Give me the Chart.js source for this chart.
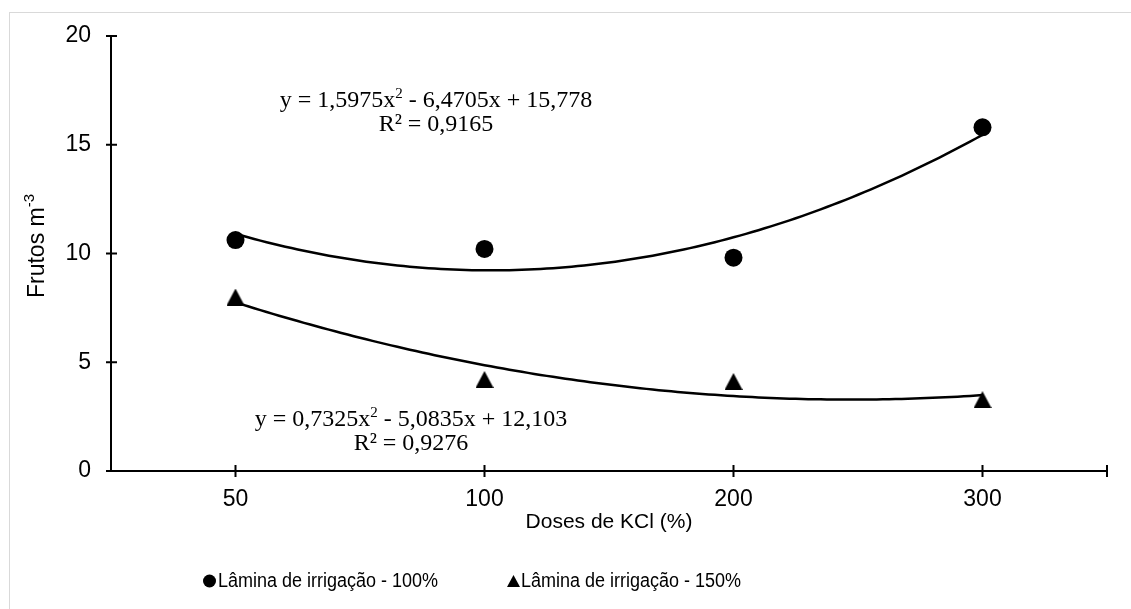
<!DOCTYPE html>
<html>
<head>
<meta charset="utf-8">
<title>Frutos por dose de KCl</title>
<script src="https://cdn.jsdelivr.net/npm/chart.js@4.4.1/dist/chart.umd.min.js"></script>
<style>
  body { margin: 0; background: #fff; }
  #frame { position: absolute; left: 9px; top: 12px; width: 1200px; height: 700px; border: 1px solid #d9d9d9; }
  #wrap { position: absolute; left: 0; top: 0; width: 1131px; height: 609px; }
</style>
</head>
<body>
<div id="frame"></div>
<div id="wrap"><canvas id="chart" width="1131" height="609"></canvas></div>
<script>
// doses de KCl (categorias do eixo x) e frutos por m³ em cada lâmina
const doses = ["50", "100", "200", "300"];
const lamina100 = [10.62, 10.21, 9.81, 15.80];
const lamina150 = [8.0, 4.21, 4.12, 3.28];
const yTicks = [0, 5, 10, 15, 20];

// coeficientes das linhas de tendência polinomiais (a, b, c), x = 1..4
const coef100 = [1.5975, -6.4705, 15.778];
const coef150 = [0.7325, -5.0835, 12.103];
const eq100 = ["y = 1,5975x", "2", " - 6,4705x + 15,778"];
const eq150 = ["y = 0,7325x", "2", " - 5,0835x + 12,103"];
const r2100 = "R² = 0,9165";
const r2150 = "R² = 0,9276";

const legendNames = ["Lâmina de irrigação - 100%", "Lâmina de irrigação - 150%"];

const SANS = '"Liberation Sans", Arial, sans-serif';
const SERIF = '"Liberation Serif", "Times New Roman", serif';

function trend(coef) {
  const pts = [];
  for (let i = 0; i <= 120; i++) {
    const x = 1 + i * 3 / 120;
    pts.push({ x: x, y: coef[0] * x * x + coef[1] * x + coef[2] });
  }
  return pts;
}

function triangleMarker(w, h) {
  const c = document.createElement("canvas");
  c.width = w; c.height = h;
  const g = c.getContext("2d");
  g.fillStyle = "#000";
  g.beginPath();
  g.moveTo(w / 2, 0);
  g.lineTo(w, h);
  g.lineTo(0, h);
  g.closePath();
  g.fill();
  return c;
}

const triangle = triangleMarker(18, 17);
const legendTriangle = triangleMarker(13, 12);

// text with a small raised "2" in the middle
function drawEquation(ctx, parts, cx, baseline) {
  ctx.font = "24px " + SERIF;
  const w0 = ctx.measureText(parts[0]).width;
  const w2 = ctx.measureText(parts[2]).width;
  ctx.font = "15px " + SERIF;
  const w1 = ctx.measureText(parts[1]).width;
  let x = cx - (w0 + w1 + w2) / 2;
  ctx.font = "24px " + SERIF;
  ctx.fillText(parts[0], x, baseline);
  x += w0;
  ctx.font = "15px " + SERIF;
  ctx.fillText(parts[1], x, baseline - 9);
  x += w1;
  ctx.font = "24px " + SERIF;
  ctx.fillText(parts[2], x, baseline);
}

// narrow legend label
function drawNarrow(ctx, text, x, y) {
  ctx.save();
  ctx.translate(x, y);
  ctx.scale(0.9, 1);
  ctx.fillText(text, 0, 0);
  ctx.restore();
}

const extras = {
  id: "extras",
  afterDraw(chart) {
    const ctx = chart.ctx;
    const xs = chart.scales.x, ys = chart.scales.y;
    ctx.save();
    ctx.strokeStyle = "#000";
    ctx.fillStyle = "#000";
    ctx.lineWidth = 2;

    // tick marks crossing the axes
    const x0 = xs.left, y0 = ys.bottom;
    ctx.beginPath();
    yTicks.forEach(v => {
      const p = ys.getPixelForValue(v);
      ctx.moveTo(x0 - 5, p); ctx.lineTo(x0 + 6, p);
    });
    doses.forEach((d, i) => {
      const p = xs.getPixelForValue(i + 1);
      ctx.moveTo(p, y0 - 6); ctx.lineTo(p, y0 + 6);
    });
    const pe = xs.getPixelForValue(xs.max);
    ctx.moveTo(pe, y0 - 6); ctx.lineTo(pe, y0 + 6);
    ctx.stroke();

    // equations
    ctx.textBaseline = "alphabetic";
    drawEquation(ctx, eq100, 436, 107);
    ctx.font = "24px " + SERIF;
    ctx.textAlign = "center";
    ctx.fillText(r2100, 436, 131);
    ctx.textAlign = "left";
    drawEquation(ctx, eq150, 411, 426);
    ctx.textAlign = "center";
    ctx.fillText(r2150, 411, 450);

    // axis titles
    ctx.font = "21px " + SANS;
    ctx.textBaseline = "middle";
    ctx.fillText("Doses de KCl (%)", (xs.left + xs.right) / 2, 522);

    ctx.save();
    ctx.translate(38, 246);
    ctx.rotate(-Math.PI / 2);
    ctx.textAlign = "left";
    ctx.font = "23px " + SANS;
    const wt = ctx.measureText("Frutos m").width;
    ctx.font = "15px " + SANS;
    const ws = ctx.measureText("-3").width;
    const start = -(wt + ws) / 2;
    ctx.font = "23px " + SANS;
    ctx.fillText("Frutos m", start, 0);
    ctx.font = "15px " + SANS;
    ctx.fillText("-3", start + wt, -8);
    ctx.restore();

    // legend
    const ly = 581;
    ctx.textAlign = "left";
    ctx.font = "20px " + SANS;
    ctx.beginPath();
    ctx.arc(209.5, ly, 6.5, 0, Math.PI * 2);
    ctx.fill();
    drawNarrow(ctx, legendNames[0], 218, ly);
    ctx.drawImage(legendTriangle, 507, ly - 6);
    drawNarrow(ctx, legendNames[1], 521, ly);
    ctx.restore();
  }
};

new Chart(document.getElementById("chart"), {
  type: "scatter",
  data: {
    datasets: [
      {
        label: legendNames[0],
        data: lamina100.map((v, i) => ({ x: i + 1, y: v })),
        pointStyle: "circle",
        pointRadius: 9,
        pointBorderWidth: 0,
        backgroundColor: "#000",
        borderColor: "#000",
        order: 0
      },
      {
        label: legendNames[1],
        data: lamina150.map((v, i) => ({ x: i + 1, y: v })),
        pointStyle: triangle,
        pointRadius: 9,
        backgroundColor: "#000",
        borderColor: "#000",
        order: 0
      },
      {
        label: "tendência 100%",
        data: trend(coef100),
        showLine: true,
        pointRadius: 0,
        borderColor: "#000",
        borderWidth: 2.5,
        order: 1
      },
      {
        label: "tendência 150%",
        data: trend(coef150),
        showLine: true,
        pointRadius: 0,
        borderColor: "#000",
        borderWidth: 2.5,
        order: 1
      }
    ]
  },
  options: {
    responsive: false,
    animation: false,
    layout: { padding: { top: 36, right: 24, bottom: 0, left: 0 } },
    plugins: { legend: { display: false }, tooltip: { enabled: false } },
    scales: {
      x: {
        type: "linear",
        min: 0.5,
        max: 4.5,
        afterBuildTicks: s => { s.ticks = doses.map((d, i) => ({ value: i + 1 })); },
        afterFit: s => { s.height = 138; },
        grid: { display: false, drawTicks: false },
        border: { display: true, color: "#000", width: 2 },
        ticks: {
          color: "#000",
          font: { family: SANS, size: 23 },
          padding: 15,
          callback: (v, i) => doses[i]
        }
      },
      y: {
        min: 0,
        max: 20,
        afterBuildTicks: s => { s.ticks = yTicks.map(v => ({ value: v })); },
        afterFit: s => { s.width = 111; },
        grid: { display: false, drawTicks: false },
        border: { display: true, color: "#000", width: 2 },
        ticks: {
          color: "#000",
          font: { family: SANS, size: 23 },
          padding: 20
        }
      }
    }
  },
  plugins: [extras]
});
</script>
</body>
</html>
